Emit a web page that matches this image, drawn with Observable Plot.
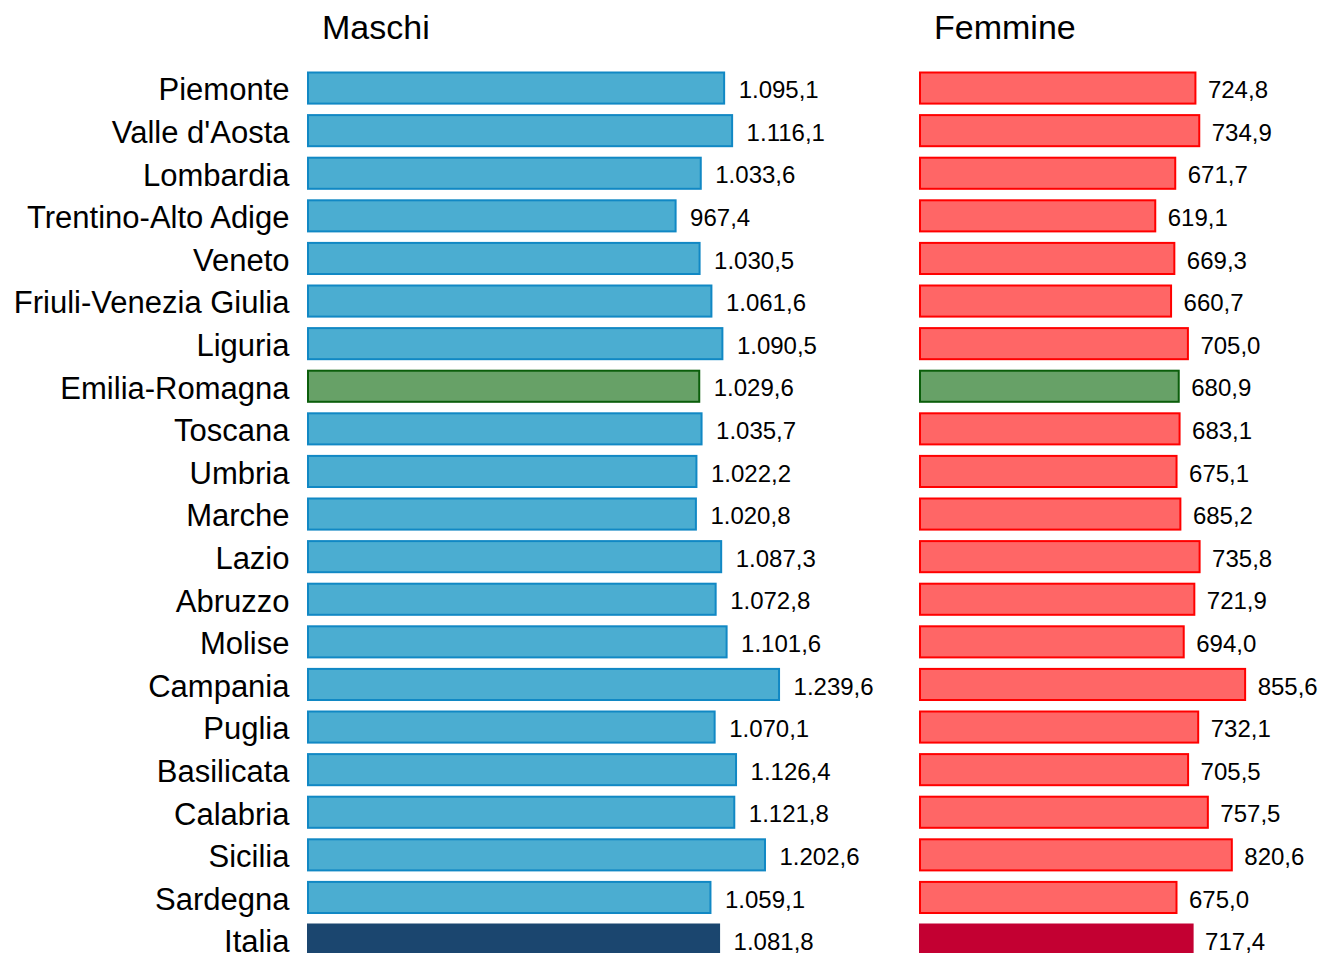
<!DOCTYPE html>
<html>
<head>
<meta charset="utf-8">
<script src="https://cdn.jsdelivr.net/npm/d3@7"></script>
<script src="https://cdn.jsdelivr.net/npm/@observablehq/plot@0.6"></script>
<style>
  html, body { margin: 0; padding: 0; background: white; overflow: hidden; }
  #wrap { position: relative; width: 1325px; height: 953px; font-family: "Liberation Sans", Arial, sans-serif; }
  .panel { position: absolute; top: 0; }
  .title { position: absolute; top: 8px; font-size: 34px; color: #000; line-height: 38px; }
</style>
</head>
<body>
<div id="wrap">
  <div class="panel" id="m" style="left:0px"></div>
  <div class="panel" id="f" style="left:900px"></div>
  <div class="title" style="left:322px">Maschi</div>
  <div class="title" style="left:934px">Femmine</div>
</div>
<script>
const regions = ["Piemonte","Valle d'Aosta","Lombardia","Trentino-Alto Adige","Veneto","Friuli-Venezia Giulia","Liguria","Emilia-Romagna","Toscana","Umbria","Marche","Lazio","Abruzzo","Molise","Campania","Puglia","Basilicata","Calabria","Sicilia","Sardegna","Italia"];
const maschi = [1095.1,1116.1,1033.6,967.4,1030.5,1061.6,1090.5,1029.6,1035.7,1022.2,1020.8,1087.3,1072.8,1101.6,1239.6,1070.1,1126.4,1121.8,1202.6,1059.1,1081.8];
const femmine = [724.8,734.9,671.7,619.1,669.3,660.7,705.0,680.9,683.1,675.1,685.2,735.8,721.9,694.0,855.6,732.1,705.5,757.5,820.6,675.0,717.4];

const fmt = d3.formatLocale({decimal: ",", thousands: ".", grouping: [3], currency: ["", "€"]}).format(",.1f");

const pxPerUnit = 0.38;
const step = 42.6, pad = 0.27;
const yStart = 61;
const yRange = [yStart, yStart + step * (regions.length + pad)];

const mData = regions.map((r, i) => ({region: r, value: maschi[i]}));
const fData = regions.map((r, i) => ({region: r, value: femmine[i]}));

function mFill(d) { return d.region === "Italia" ? "#1B466F" : d.region === "Emilia-Romagna" ? "#67A167" : "#4BADD1"; }
function mStroke(d) { return d.region === "Italia" ? "#1B466F" : d.region === "Emilia-Romagna" ? "#0B5E0B" : "#1188C4"; }
function fFill(d) { return d.region === "Italia" ? "#C30032" : d.region === "Emilia-Romagna" ? "#67A167" : "#FF6666"; }
function fStroke(d) { return d.region === "Italia" ? "#C30032" : d.region === "Emilia-Romagna" ? "#0B5E0B" : "#FF0000"; }

const mPlot = Plot.plot({
  width: 900, height: 953,
  marginLeft: 308, marginRight: 0, marginTop: 0, marginBottom: 0,
  style: {fontFamily: "Liberation Sans, Arial, sans-serif", background: "transparent", overflow: "visible"},
  x: {domain: [0, 1500], range: [308, 308 + pxPerUnit * 1500], axis: null},
  y: {domain: regions, range: yRange, padding: pad, round: false},
  marks: [
    Plot.axisY({tickSize: 0, tickPadding: 19, fontSize: 31, dy: 2, label: null, color: "#000"}),
    Plot.barX(mData, {y: "region", x: "value", fill: mFill, stroke: mStroke, strokeWidth: 2}),
    Plot.text(mData, {y: "region", x: "value", text: d => fmt(d.value), textAnchor: "start", dx: 14, dy: 2, fontSize: 24, fill: "#000"})
  ]
});
document.getElementById("m").appendChild(mPlot);

const fPlot = Plot.plot({
  width: 425, height: 953,
  marginLeft: 0, marginRight: 0, marginTop: 0, marginBottom: 0,
  style: {fontFamily: "Liberation Sans, Arial, sans-serif", background: "transparent", overflow: "visible"},
  x: {domain: [0, 1000], range: [20, 20 + pxPerUnit * 1000], axis: null},
  y: {domain: regions, range: yRange, padding: pad, round: false, axis: null},
  marks: [
    Plot.barX(fData, {y: "region", x: "value", fill: fFill, stroke: fStroke, strokeWidth: 2}),
    Plot.text(fData, {y: "region", x: "value", text: d => fmt(d.value), textAnchor: "start", dx: 12, dy: 2, fontSize: 24, fill: "#000"})
  ]
});
document.getElementById("f").appendChild(fPlot);
</script>
</body>
</html>
